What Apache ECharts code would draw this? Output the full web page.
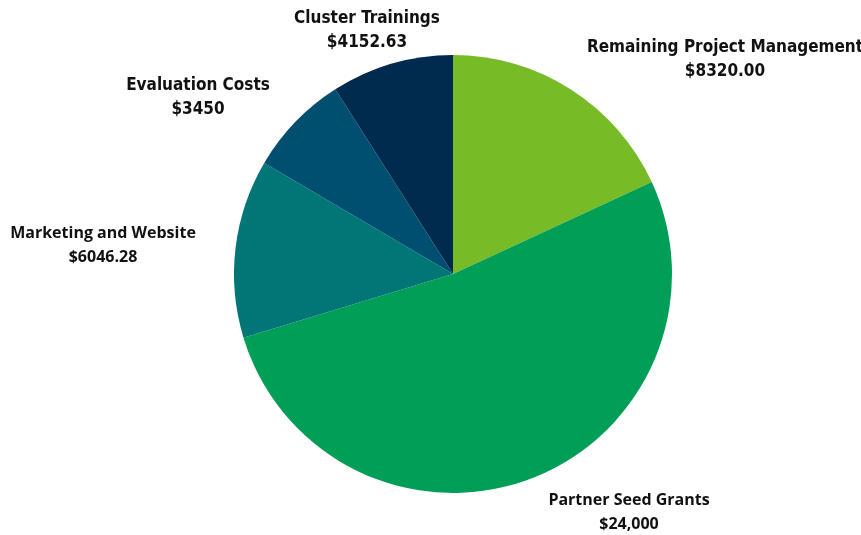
<!DOCTYPE html>
<html>
<head>
<meta charset="utf-8">
<script src="https://cdn.jsdelivr.net/npm/echarts@6/dist/echarts.min.js"></script>
<style>
  html, body { margin: 0; padding: 0; background: #fff; }
  #main { width: 861px; height: 535px; }
</style>
</head>
<body>
<div id="main"></div>
<script>
// budget categories, clockwise from 12 o'clock
var categories = ['Remaining Project Management', 'Partner Seed Grants', 'Marketing and Website', 'Evaluation Costs', 'Cluster Trainings'];
var amounts = [8320.00, 24000, 6046.28, 3450, 4152.63];
var amountLabels = ['$8320.00', '$24,000', '$6046.28', '$3450', '$4152.63'];
var colors = ['#77bb26', '#009e57', '#007677', '#004f71', '#002a4e'];

// where each label sits (center of the two-line block)
var labelPos = [[725, 60], [629, 512], [103, 245], [198, 98], [367, 31]];
var condensed = [true, false, false, true, true];

var chart = echarts.init(document.getElementById('main'));

var pieData = categories.map(function (name, i) {
    return {
        name: name,
        value: amounts[i],
        itemStyle: { color: colors[i] },
        label: {
            fontFamily: condensed[i] ? '"Liberation Sans Narrow", "DejaVu Sans Condensed", sans-serif' : '"Open Sans", sans-serif',
            fontSize: condensed[i] ? 17 : 16
        }
    };
});

var option = {
    animation: false,
    series: [{
        type: 'pie',
        center: [453, 274],
        radius: 219,
        startAngle: 90,
        clockwise: true,
        data: pieData,
        itemStyle: { borderWidth: 0 },
        label: {
            show: true,
            position: 'outside',
            color: '#111',
            fontWeight: 'bold',
            lineHeight: 24,
            align: 'center',
            overflow: 'none',
            formatter: function (p) {
                return p.name + '\n' + amountLabels[p.dataIndex];
            }
        },
        labelLine: { show: false },
        labelLayout: function (params) {
            var pos = labelPos[params.dataIndex];
            return { x: pos[0], y: pos[1], align: 'center', verticalAlign: 'middle', hideOverlap: false };
        }
    }]
};
chart.setOption(option);
</script>
</body>
</html>
